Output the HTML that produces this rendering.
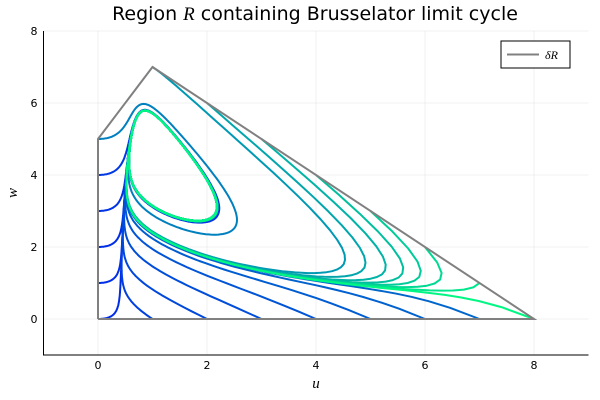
<!DOCTYPE html>
<html><head><meta charset="utf-8"><style>
body{margin:0;background:#fff;}
svg{display:block;font-family:"DejaVu Sans","Liberation Sans",sans-serif;}
</style></head><body>
<svg id="chart" width="600" height="400" viewBox="0 0 600 400">
<rect width="600" height="400" fill="#fff"/>
<g id="grid"></g>
<g id="traj"></g>
<g id="region"></g>
<g id="axes"></g>
<text x="315" y="20" text-anchor="middle" font-size="19" fill="#000">Region <tspan font-family="Liberation Serif,serif" font-style="italic">R</tspan> containing Brusselator limit cycle</text>
<text x="316" y="388" text-anchor="middle" font-size="15" font-style="italic" font-family="Liberation Serif,serif">u</text>
<text x="17" y="193" text-anchor="middle" font-size="15" font-style="italic" font-family="Liberation Serif,serif" transform="rotate(-90 17 193)">w</text>
<g>
<rect x="501" y="41" width="69" height="27" fill="#fff" stroke="#000" stroke-width="1"/>
<line x1="507" y1="54.5" x2="539" y2="54.5" stroke="#808080" stroke-width="2"/>
<text x="545" y="59" font-size="12" font-style="italic" font-family="Liberation Serif,serif">δR</text>
</g>
</svg>
<script>
const xTicks=[0,2,4,6,8];
const yTicks=[0,2,4,6,8];
const xTickLabels=["0","2","4","6","8"];
const yTickLabels=["0","2","4","6","8"];
const regionU=[0,8,1,0,0];
const regionW=[0,0,7,5,0];
const initU=[0,0,0,0,0,1,2,3,4,5,6,7,0,1,2,3,4,5,6,7,8];
const initW=[0,1,2,3,4,0,0,0,0,0,0,0,5,7,6,5,4,3,2,1,0];
const colorT=[0.18,0.18,0.18,0.2,0.22,0.25,0.28,0.3,0.33,0.36,0.38,0.4,0.5,0.6,0.65,0.7,0.75,0.8,0.85,0.9,0.97];
const paramA=0.3, paramB=1.5;

const X0=43.5,X1=588.5,Y0=355,Y1=31;
const xs=v=>X0+(v+1)/10*(X1-X0);
const ys=v=>Y0-(v+1)/9*(Y0-Y1);
const NS='http://www.w3.org/2000/svg';
function mk(tag,attrs,parent){const e=document.createElementNS(NS,tag);for(const k in attrs)e.setAttribute(k,attrs[k]);parent.appendChild(e);return e;}
const grid=document.getElementById('grid'),axes=document.getElementById('axes');
xTicks.forEach((t,i)=>{
 const g=mk('line',{x1:xs(t),x2:xs(t),y1:Y1,y2:Y0,stroke:'#000','stroke-opacity':0.1,'stroke-width':0.5},grid);
 
 
 const l=mk('text',{x:xs(t),y:Y0+14,'text-anchor':'middle','font-size':11},axes);l.textContent=xTickLabels[i];
 
 
});
yTicks.forEach((t,i)=>{
 const g=mk('line',{x1:X0,x2:X1,y1:ys(t),y2:ys(t),stroke:'#000','stroke-opacity':0.1,'stroke-width':0.5},grid);
 
 
 const l=mk('text',{x:X0-6,y:ys(t)+4,'text-anchor':'end','font-size':11},axes);l.textContent=yTickLabels[i];
 
 
});
const ax=mk('path',{d:`M${X0},${Y1}V${Y0}H${X1}`,fill:'none',stroke:'#000','stroke-width':1},axes);


function winter(t){const g=Math.round(255*t),b=Math.round(255*(1-t*0.5));return `rgb(0,${g},${b})`;}
function f(u,w){const q=paramA*u*u*w;return [1-(paramB+1)*u+q,paramB*u-q];}
const tg=document.getElementById('traj');
initU.forEach((u0,i)=>{
 let u=u0,w=initW[i];const dt=0.01;let d=`M${xs(u).toFixed(1)},${ys(w).toFixed(1)}`;
 for(let s=1;s<=8000;s++){
  const k1=f(u,w),k2=f(u+dt/2*k1[0],w+dt/2*k1[1]),k3=f(u+dt/2*k2[0],w+dt/2*k2[1]),k4=f(u+dt*k3[0],w+dt*k3[1]);
  u+=dt/6*(k1[0]+2*k2[0]+2*k3[0]+k4[0]);w+=dt/6*(k1[1]+2*k2[1]+2*k3[1]+k4[1]);
  if(s%4===0)d+=`L${xs(u).toFixed(1)},${ys(w).toFixed(1)}`;
 }
 const p=mk('path',{d:d,fill:'none',stroke:winter(colorT[i]),'stroke-width':2,'stroke-linejoin':'round'},tg);
 
 
});
const rg=document.getElementById('region');
let rd='';regionU.forEach((u,i)=>{rd+=(i?'L':'M')+xs(u)+','+ys(regionW[i]);});
const rp=mk('path',{d:rd,fill:'none',stroke:'#808080','stroke-width':2},rg);


</script>
</body></html>
